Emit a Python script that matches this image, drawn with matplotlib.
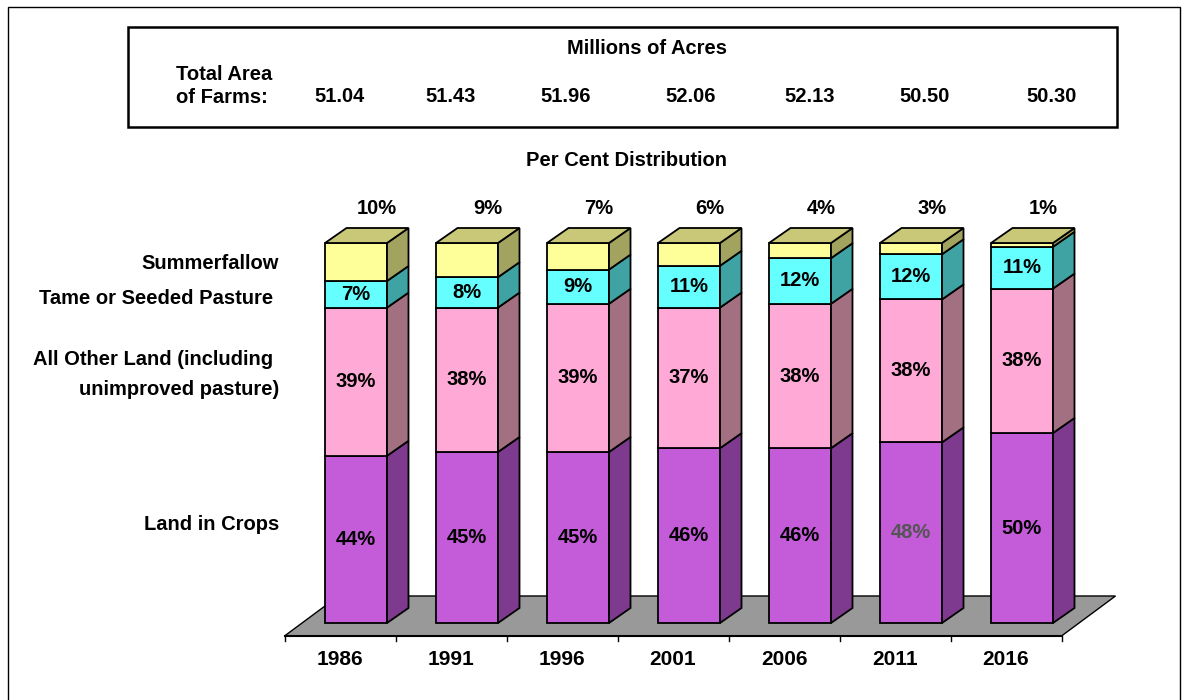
import numpy as np
import matplotlib.pyplot as plt
from matplotlib.patches import Polygon, Rectangle

plt.rcParams['font.family'] = ['Liberation Sans', 'DejaVu Sans']
plt.rcParams['font.weight'] = 'bold'

# data
years = ['1986', '1991', '1996', '2001', '2006', '2011', '2016']
total_area = ['51.04', '51.43', '51.96', '52.06', '52.13', '50.50', '50.30']
land_in_crops = [44, 45, 45, 46, 46, 48, 50]
all_other_land = [39, 38, 39, 37, 38, 38, 38]
tame_pasture = [7, 8, 9, 11, 12, 12, 11]
summerfallow = [10, 9, 7, 6, 4, 3, 1]

series = [land_in_crops, all_other_land, tame_pasture, summerfallow]
series_names = ['Land in Crops', 'All Other Land (including \nunimproved pasture)',
                'Tame or Seeded Pasture ', 'Summerfallow']
front_colors = ['#C45BD9', '#FFAAD6', '#66FFFF', '#FFFF99']
side_colors = ['#7E3A8E', '#A27080', '#3FA3A3', '#A3A360']
top_color = '#C8C878'

FS = 14.5
W, H = 1189, 700
fig = plt.figure(figsize=(W / 100, H / 100), dpi=100)
ax = fig.add_axes([0, 0, 1, 1])
# 1 x-unit = 111 px, 1 % = 3.8 px, origin at category 0 / bar base
ax.set_xlim(-340 / 111, (W - 340) / 111)
ax.set_ylim((623 - H) / 3.8, 623 / 3.8)
ax.axis('off')

n = len(years)
x = np.arange(n)
off = -15 / 111     # front face left edge relative to category centre
bw = 62 / 111       # front face width
dx, dy = 21.5 / 111, 15 / 3.8   # depth of the bars

# floor
fdx, fdy = 54 / 111, 40 / 3.8
f0 = -13 / 3.8
floor = Polygon([(-0.5, f0), (n - 0.5, f0), (n - 0.5 + fdx, f0 + fdy), (-0.5 + fdx, f0 + fdy)],
                closed=True, facecolor='#999999', edgecolor='black', lw=1.0, zorder=1)
ax.add_patch(floor)
ax.plot([-0.5, n - 0.5], [f0, f0], color='black', lw=1.5, zorder=2)
for b in np.arange(-0.5, n, 1.0):
    ax.plot([b, b], [f0, f0 - 1.4], color='black', lw=1.0, zorder=2)

# bars (each column drawn as 100 %)
for i in range(n):
    left = x[i] + off
    total = sum(vals[i] for vals in series)
    bottom = 0
    for s, vals in enumerate(series):
        v = vals[i]
        h = v * 100 / total
        top = bottom + h
        ax.add_patch(Rectangle((left, bottom), bw, h, facecolor=front_colors[s],
                               edgecolor='black', lw=1.3, zorder=3))
        side = Polygon([(left + bw, bottom), (left + bw + dx, bottom + dy),
                        (left + bw + dx, top + dy), (left + bw, top)],
                       closed=True, facecolor=side_colors[s], edgecolor='black', lw=1.3, zorder=3)
        ax.add_patch(side)
        if s < 3:
            col = '#555555' if (s == 0 and i == 5) else 'black'
            ax.text(left + bw / 2, bottom + h / 2, f'{v}%', ha='center', va='center',
                    fontsize=FS, fontweight='bold', color=col, zorder=4)
        bottom = top
    topface = Polygon([(left, bottom), (left + bw, bottom), (left + bw + dx, bottom + dy),
                       (left + dx, bottom + dy)], closed=True, facecolor=top_color,
                      edgecolor='black', lw=1.3, zorder=3)
    ax.add_patch(topface)
    ax.text(left + bw / 2 + 21 / 111, 109, f'{summerfallow[i]}%', ha='center',
            va='center', fontsize=FS, fontweight='bold')

# category labels
for i, yr in enumerate(years):
    ax.text(x[i], -9.7, yr, ha='center', va='center', fontsize=15, fontweight='bold')

# series labels on the left
label_y = [26, 65.3, 85.3, 94.5]
for name, ly in zip(series_names, label_y):
    ax.text(-0.55, ly, name, ha='right', va='center', fontsize=FS, fontweight='bold',
            linespacing=1.75)

# header box and outer frame
fig.patches.append(Rectangle((128 / W, 1 - 127 / H), (1117 - 128) / W, 100 / H,
                             transform=fig.transFigure, facecolor='none',
                             edgecolor='black', lw=1.8))
fig.patches.append(Rectangle((8 / W, -0.01), (1180 - 8) / W, 1 - 7 / H + 0.01,
                             transform=fig.transFigure, facecolor='none',
                             edgecolor='black', lw=1.0))
fig.text(647 / W, 1 - 49 / H, 'Millions of Acres', ha='center', va='center',
         fontsize=FS, fontweight='bold')
fig.text(176 / W, 1 - 86 / H, 'Total Area\nof Farms:', ha='left', va='center',
         fontsize=FS, fontweight='bold', linespacing=1.24)
area_x = [340, 451, 566, 691, 810, 925, 1052]
for ax_px, val in zip(area_x, total_area):
    fig.text(ax_px / W, 1 - 97 / H, val, ha='center', va='center', fontsize=FS,
             fontweight='bold')
fig.text(626 / W, 1 - 161 / H, 'Per Cent Distribution', ha='center', va='center',
         fontsize=FS, fontweight='bold')

fig.savefig('out.png', dpi=100)
